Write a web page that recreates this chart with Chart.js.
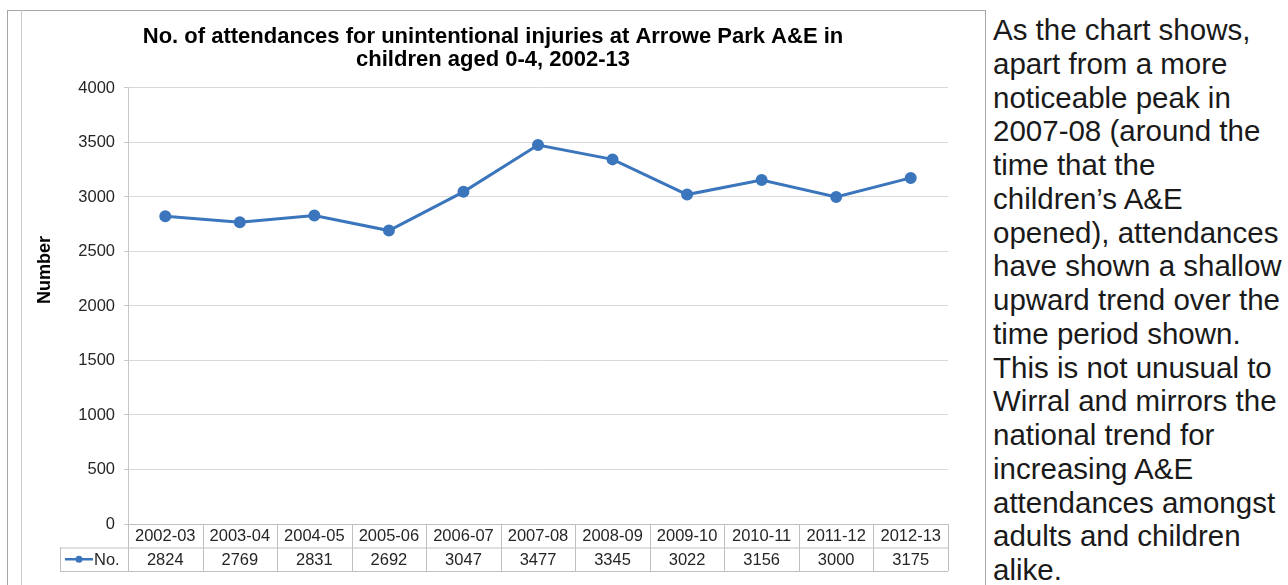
<!DOCTYPE html>
<html>
<head>
<meta charset="utf-8">
<script src="https://cdn.jsdelivr.net/npm/chart.js@4"></script>
<style>
  body { margin: 0; background: #fff; font-family: "Liberation Sans", Arial, sans-serif; }
  .frame-top { position: absolute; left: 7px; top: 10px; width: 978px; height: 0; border-top: 1px solid #a6a6a6; }
  .frame-left { position: absolute; left: 7px; top: 10px; width: 0; height: 580px; border-left: 1px solid #a6a6a6; }
  .frame-inner { position: absolute; left: 21px; top: 10px; width: 0; height: 580px; border-left: 1px solid #c8c8c8; }
  .frame-right { position: absolute; left: 985px; top: 10px; width: 0; height: 580px; border-left: 1px solid #a6a6a6; }
  #chartWrap { position: absolute; left: 22px; top: 11px; width: 962px; height: 574px; }
  .notes { position: absolute; left: 993px; top: 13px; font-size: 29.5px; line-height: 33.75px; color: #1a1a1a; white-space: nowrap; }
</style>
</head>
<body>
<div class="frame-top"></div>
<div class="frame-left"></div>
<div class="frame-inner"></div>
<div class="frame-right"></div>
<div id="chartWrap"><canvas id="attChart" width="962" height="574"></canvas></div>
<div class="notes">As the chart shows,<br>apart from a more<br>noticeable peak in<br>2007-08 (around the<br>time that the<br>children’s A&amp;E<br>opened), attendances<br>have shown a shallow<br>upward trend over the<br>time period shown.<br>This is not unusual to<br>Wirral and mirrors the<br>national trend for<br>increasing A&amp;E<br>attendances amongst<br>adults and children<br>alike.</div>
<script>
const years = ['2002-03', '2003-04', '2004-05', '2005-06', '2006-07', '2007-08', '2008-09', '2009-10', '2010-11', '2011-12', '2012-13'];
const attendances = [2824, 2769, 2831, 2692, 3047, 3477, 3345, 3022, 3156, 3000, 3175];
const seriesName = 'No.';
const yTitle = 'Number';
const yMin = 0;
const yMax = 4000;
const yStep = 500;

const lineBlue = '#3b76bd';
const tableLine = '#bfbfbf';
const textDark = '#262626';
const fontFamily = '"Liberation Sans", Arial, sans-serif';

// data table under the plot, aligned to the category scale
const dataTable = {
    id: 'dataTable',
    afterDraw(chart) {
        const ctx = chart.ctx;
        const x = chart.scales.x;
        const area = chart.chartArea;
        const rowH = 23.5;
        const top = area.bottom;
        const legendLeft = area.left - 68;
        const half = (x.getPixelForValue(1) - x.getPixelForValue(0)) / 2;

        ctx.save();
        ctx.strokeStyle = tableLine;
        ctx.lineWidth = 1;
        ctx.beginPath();
        ctx.moveTo(area.left, top + 0.5); ctx.lineTo(area.right, top + 0.5);
        ctx.moveTo(legendLeft, top + rowH + 0.5); ctx.lineTo(area.right, top + rowH + 0.5);
        ctx.moveTo(legendLeft, top + 2 * rowH + 0.5); ctx.lineTo(area.right, top + 2 * rowH + 0.5);
        ctx.moveTo(legendLeft + 0.5, top + rowH); ctx.lineTo(legendLeft + 0.5, top + 2 * rowH);
        years.forEach((y, i) => {
            const px = Math.round(x.getPixelForValue(i) - half) + 0.5;
            ctx.moveTo(px, top); ctx.lineTo(px, top + 2 * rowH);
        });
        const lastPx = Math.round(x.getPixelForValue(years.length - 1) + half) + 0.5;
        ctx.moveTo(lastPx, top); ctx.lineTo(lastPx, top + 2 * rowH);
        ctx.stroke();

        ctx.fillStyle = textDark;
        ctx.font = '16.5px ' + fontFamily;
        ctx.textAlign = 'center';
        ctx.textBaseline = 'middle';
        years.forEach((y, i) => {
            const cx = x.getPixelForValue(i);
            ctx.fillText(y, cx, top + rowH / 2 + 1);
            ctx.fillText(String(attendances[i]), cx, top + rowH * 1.5 + 1);
        });

        // legend key
        const ky = top + rowH * 1.5;
        ctx.strokeStyle = lineBlue;
        ctx.lineWidth = 2.5;
        ctx.beginPath();
        ctx.moveTo(legendLeft + 5, ky); ctx.lineTo(legendLeft + 33, ky);
        ctx.stroke();
        ctx.fillStyle = lineBlue;
        ctx.beginPath();
        ctx.arc(legendLeft + 19, ky, 3.5, 0, Math.PI * 2);
        ctx.fill();
        ctx.fillStyle = textDark;
        ctx.textAlign = 'left';
        ctx.fillText(seriesName, legendLeft + 34, ky + 1);

        // y axis title, sits a bit above the middle like the original
        ctx.save();
        ctx.translate(23, 259);
        ctx.rotate(-Math.PI / 2);
        ctx.fillStyle = '#000';
        ctx.font = 'bold 18px ' + fontFamily;
        ctx.textAlign = 'center';
        ctx.fillText(yTitle, 0, 0);
        ctx.restore();
        ctx.restore();
    }
};

new Chart(document.getElementById('attChart').getContext('2d'), {
    type: 'line',
    plugins: [dataTable],
    data: {
        labels: years,
        datasets: [{
            label: seriesName,
            data: attendances,
            borderColor: lineBlue,
            backgroundColor: lineBlue,
            borderWidth: 3,
            pointRadius: 4.5,
            pointBackgroundColor: lineBlue,
            pointBorderColor: lineBlue,
            tension: 0
        }]
    },
    options: {
        responsive: false,
        animation: false,
        devicePixelRatio: 1,
        layout: { padding: { left: 16, right: 36, top: 0, bottom: 11 } },
        scales: {
            x: {
                offset: true,
                grid: { display: false },
                border: { display: false },
                ticks: { display: false },
                afterFit: scale => { scale.height = 50; }
            },
            y: {
                min: yMin,
                max: yMax,
                grid: { color: '#d9d9d9', tickLength: 4, tickColor: '#c8c8c8' },
                border: { color: '#c8c8c8' },
                ticks: {
                    stepSize: yStep,
                    padding: 9,
                    color: textDark,
                    font: { family: fontFamily, size: 16.5 },
                    callback: value => String(value)
                },
                afterFit: scale => { scale.width = 90; }
            }
        },
        plugins: {
            legend: { display: false },
            tooltip: { enabled: false },
            title: {
                display: true,
                text: ['No. of attendances for unintentional injuries at Arrowe Park A&E in', 'children aged 0-4, 2002-13'],
                color: '#000',
                padding: { top: 14.5, bottom: 16.5 },
                font: { family: fontFamily, size: 22, weight: 'bold', lineHeight: 1.045 }
            }
        }
    }
});
</script>
</body>
</html>
